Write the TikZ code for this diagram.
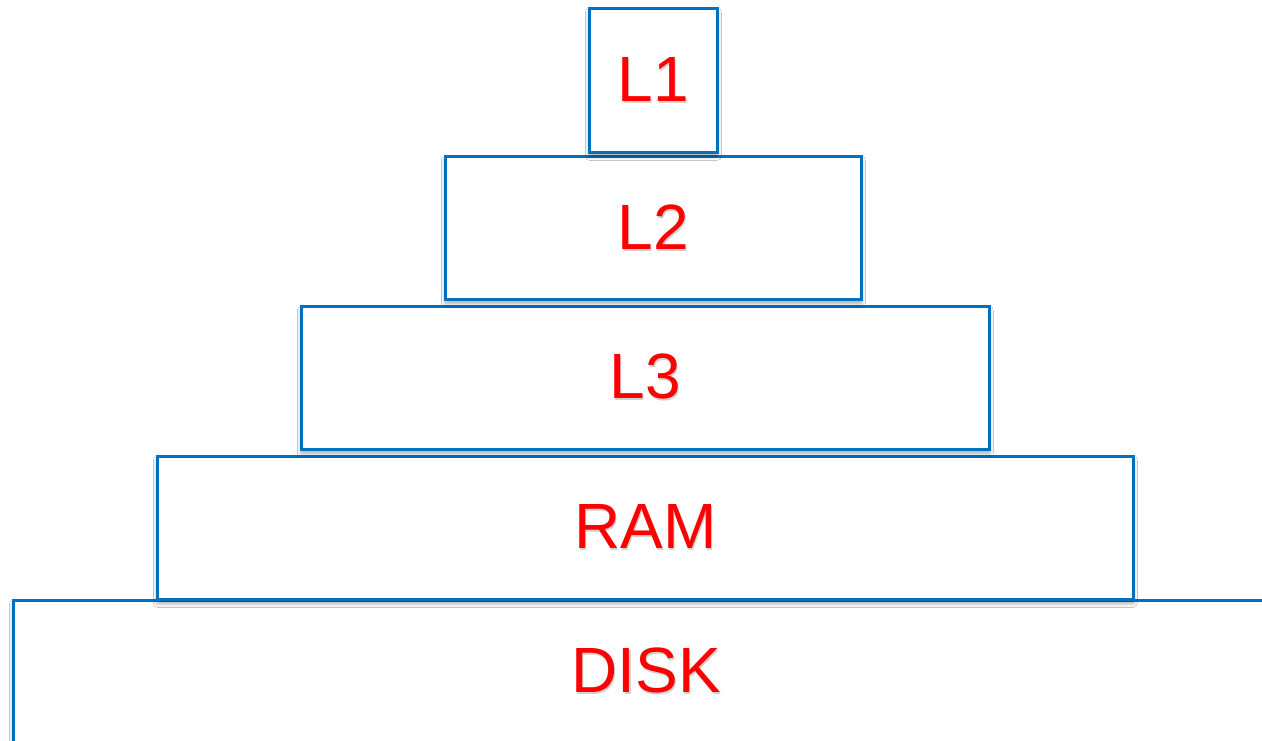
\documentclass[tikz,border=0pt]{standalone}
\usepackage{fontspec}
\setmainfont{Liberation Sans}
\usetikzlibrary{shadows.blur}
\definecolor{tierblue}{RGB}{0,112,192}
\definecolor{tierred}{RGB}{255,0,0}
% red label with a faint drop shadow behind it
\newcommand{\tierlabel}[1]{\rlap{\hspace{1.2pt}\raisebox{-2.2pt}{\textcolor{black!18}{#1}}}\textcolor{tierred}{#1}}
\tikzset{
  tier/.style={draw=tierblue, line width=2.6pt, fill=white,
    blur shadow={shadow xshift=0pt, shadow yshift=-4pt, shadow blur steps=8, shadow blur radius=4pt, shadow opacity=35},
    font=\fontsize{64}{64}\selectfont, inner sep=0pt, anchor=north west},
}
\begin{document}
\begin{tikzpicture}[x=1pt, y=-1pt]
  \useasboundingbox (0,0) rectangle (1262,741);
  \clip (0,0) rectangle (1262,741);
  \fill[white] (0,0) rectangle (1262,741);
  \node[tier, minimum width=1266pt, minimum height=143pt] (disk) at (12,599) {\tierlabel{DISK}};
  \node[tier, minimum width=976pt, minimum height=143pt] (ram) at (156,455) {\tierlabel{RAM}};
  \node[tier, minimum width=688pt, minimum height=143pt] (l3) at (300,305) {\tierlabel{L3}};
  \node[tier, minimum width=416pt, minimum height=143pt] (l2) at (444,155) {\tierlabel{L2}};
  \node[tier, minimum width=128pt, minimum height=144pt] (l1) at (588,7) {\tierlabel{L1}};
\end{tikzpicture}
\end{document}
